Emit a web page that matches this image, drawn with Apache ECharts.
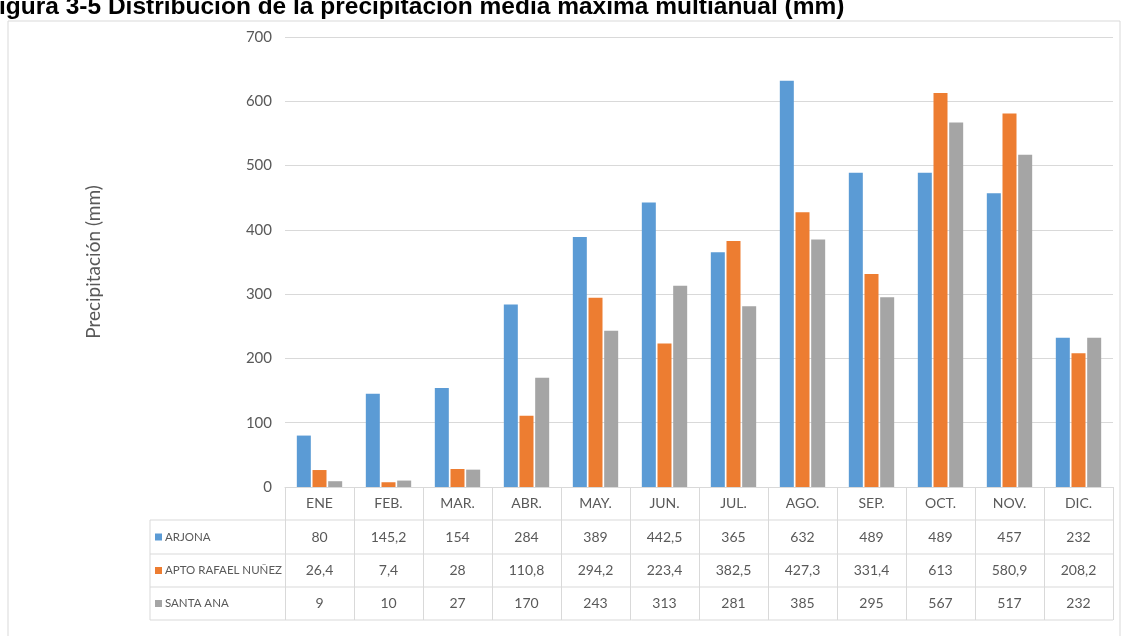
<!DOCTYPE html>
<html>
<head>
<meta charset="utf-8">
<script src="https://cdn.jsdelivr.net/npm/echarts@6/dist/echarts.min.js"></script>
<style>
  html, body { margin: 0; padding: 0; background: #ffffff; }
  #chart { width: 1126px; height: 636px; }
</style>
</head>
<body>
<div id="chart"></div>
<script>
// Monthly maximum mean precipitation (mm) per station
const months = ['ENE', 'FEB.', 'MAR.', 'ABR.', 'MAY.', 'JUN.', 'JUL.', 'AGO.', 'SEP.', 'OCT.', 'NOV.', 'DIC.'];
const stations = ['ARJONA', 'APTO RAFAEL NUÑEZ', 'SANTA ANA'];
const arjona = [80, 145.2, 154, 284, 389, 442.5, 365, 632, 489, 489, 457, 232];
const aptoRafaelNunez = [26.4, 7.4, 28, 110.8, 294.2, 223.4, 382.5, 427.3, 331.4, 613, 580.9, 208.2];
const santaAna = [9, 10, 27, 170, 243, 313, 281, 385, 295, 567, 517, 232];
const yTicks = [0, 100, 200, 300, 400, 500, 600, 700];

const seriesValues = [arjona, aptoRafaelNunez, santaAna];
const colors = ['#5B9BD5', '#ED7D31', '#A5A5A5'];
const FONT = 'Lato, "Open Sans", sans-serif';
const TEXT = '#595959';
const LINE = '#d9d9d9';

// layout of the plot and the data table beneath it
const plotLeft = 285, plotRight = 1113, plotTop = 37, plotBottom = 487;
const rowBounds = [520, 554, 587, 620];           // lower edge of header row and of each data row
const tableLeft = 150;

const fmt = v => String(v).replace('.', ',');

const chart = echarts.init(document.getElementById('chart'), null, { renderer: 'canvas' });

const xAxes = [{
  type: 'category',
  data: months,
  gridIndex: 0,
  position: 'bottom',
  axisLine: { show: true, lineStyle: { color: LINE, width: 1 } },
  axisTick: { show: true, interval: 0, length: rowBounds[3] - plotBottom, lineStyle: { color: LINE } },
  axisLabel: { interval: 0, color: TEXT, fontFamily: FONT, fontSize: 14, margin: (plotBottom + rowBounds[0]) / 2 - plotBottom, verticalAlign: 'middle' },
  splitLine: { show: false }
}];
// one label row per station, aligned with the month columns
seriesValues.forEach((vals, i) => {
  const top = rowBounds[i];
  const bottom = rowBounds[i + 1];
  xAxes.push({
    type: 'category',
    data: vals.map(fmt),
    gridIndex: 0,
    position: 'bottom',
    offset: (top + bottom) / 2 - plotBottom,
    axisLine: { show: false },
    axisTick: { show: false },
    splitLine: { show: false },
    axisLabel: { interval: 0, color: TEXT, fontFamily: FONT, fontSize: 14, margin: 0, verticalAlign: 'middle' }
  });
});

const legends = stations.map((name, i) => {
  const top = rowBounds[i], bottom = rowBounds[i + 1];
  return {
    data: [name],
    left: tableLeft + 5,
    top: (top + bottom) / 2 - 10,
    padding: 0,
    icon: 'rect',
    itemWidth: 7,
    itemHeight: 7,
    selectedMode: false,
    textStyle: { color: TEXT, fontFamily: FONT, fontSize: 11.5, lineHeight: 20, padding: [0, 0, 0, -2] }
  };
});

// table grid lines and chart frame
const graphics = [
  { type: 'rect', shape: { x: 8, y: 21, width: 1112, height: 640 }, style: { fill: null, stroke: LINE, lineWidth: 1 }, z: -1 },
  { type: 'text', x: -1, y: -5, style: { text: 'igura 3-5 Distribución de la precipitación media máxima multianual (mm)', font: 'bold 24.5px "Liberation Sans", Arial, sans-serif', fill: '#000000' } }
];
rowBounds.forEach(y => {
  graphics.push({ type: 'line', shape: { x1: tableLeft, y1: y, x2: plotRight, y2: y }, style: { stroke: LINE, lineWidth: 1 } });
});
graphics.push({ type: 'line', shape: { x1: tableLeft, y1: rowBounds[0], x2: tableLeft, y2: rowBounds[3] }, style: { stroke: LINE, lineWidth: 1 } });

chart.setOption({
  animation: false,
  color: colors,
  grid: { left: plotLeft, right: 1126 - plotRight, top: plotTop, bottom: 636 - plotBottom, containLabel: false },
  legend: legends,
  graphic: graphics,
  xAxis: xAxes,
  yAxis: {
    type: 'value',
    min: yTicks[0],
    max: yTicks[yTicks.length - 1],
    interval: 100,
    name: 'Precipitación (mm)',
    nameLocation: 'middle',
    nameRotate: 90,
    nameGap: 182,
    nameTextStyle: { color: TEXT, fontFamily: FONT, fontSize: 19 },
    axisLine: { show: false },
    axisTick: { show: false },
    axisLabel: { color: TEXT, fontFamily: FONT, fontSize: 15, margin: 13 },
    splitLine: { lineStyle: { color: LINE, width: 1 } }
  },
  series: stations.map((name, i) => ({
    name: name,
    type: 'bar',
    xAxisIndex: 0,
    data: seriesValues[i],
    barWidth: 14,
    barGap: '12%',
    itemStyle: { color: colors[i] }
  }))
});
</script>
</body>
</html>
